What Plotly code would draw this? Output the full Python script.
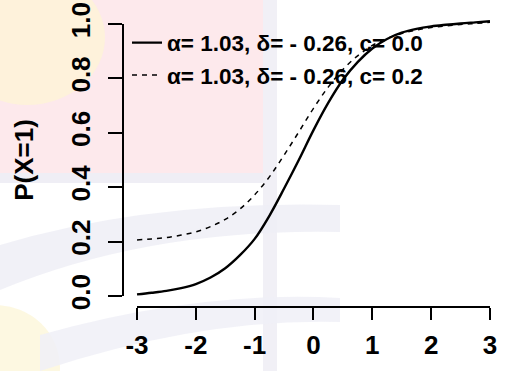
import plotly.graph_objects as go

# ---- data ----
theta = [-3.0, -2.75, -2.5, -2.25, -2.0, -1.75, -1.5, -1.25, -1.0, -0.75, -0.5, -0.25,
         0.0, 0.25, 0.5, 0.75, 1.0, 1.25, 1.5, 1.75, 2.0, 2.25, 2.5, 2.75, 3.0]
p_c00 = [0.006, 0.012, 0.019, 0.029, 0.044, 0.068, 0.102, 0.150, 0.210, 0.295, 0.395, 0.500,
         0.610, 0.710, 0.795, 0.860, 0.910, 0.945, 0.968, 0.982, 0.991, 0.997, 1.002, 1.006, 1.010]
p_c02 = [0.206, 0.210, 0.215, 0.224, 0.236, 0.255, 0.282, 0.320, 0.372, 0.438, 0.518, 0.603,
         0.690, 0.768, 0.833, 0.883, 0.921, 0.947, 0.965, 0.978, 0.987, 0.993, 0.998, 1.002, 1.006]
x_ticks = [-3, -2, -1, 0, 1, 2, 3]
x_tick_labels = ["-3", "-2", "-1", "0", "1", "2", "3"]
y_ticks = [0.0, 0.2, 0.4, 0.6, 0.8, 1.0]
y_tick_labels = ["0.0", "0.2", "0.4", "0.6", "0.8", "1.0"]
legend_labels = ["α= 1.03, δ= - 0.26, c= 0.0", "α= 1.03, δ= - 0.26, c= 0.2"]
y_title = "P(X=1)"

W, H = 506, 371
FONT = "Liberation Sans, Arial, Helvetica, sans-serif"


def px(x):
    return x / W


def py(y):
    return 1 - y / H


# data region (R style: 4% extension of the axis ranges)
xr = [-3.24, 3.24]
yr = [-0.04, 1.04]
xdom = [px(122.9), px(504.1)]
ydom = [py(306.9), py(13.1)]


def shrink(dom, lo, hi, rng):
    span = rng[1] - rng[0]
    a = dom[0] + (lo - rng[0]) / span * (dom[1] - dom[0])
    b = dom[0] + (hi - rng[0]) / span * (dom[1] - dom[0])
    return [a, b]


x2dom = shrink(xdom, min(x_ticks), max(x_ticks), xr)
y2dom = shrink(ydom, min(y_ticks), max(y_ticks), yr)

fig = go.Figure()
fig.add_trace(go.Scatter(x=theta, y=p_c00, mode="lines", name=legend_labels[0],
                         line=dict(color="black", width=2.4, shape="spline"),
                         legendgroup="a", hoverinfo="skip"))
fig.add_trace(go.Scatter(x=theta, y=p_c02, mode="lines", name=legend_labels[1],
                         line=dict(color="black", width=1.5, dash="5px,5px", shape="spline"),
                         legendgroup="b", hoverinfo="skip"))
# empty trace that carries the R-style axes
fig.add_trace(go.Scatter(x=[], y=[], xaxis="x2", yaxis="y2", showlegend=False, hoverinfo="skip"))

# faint watermark in the background
shapes = [
    dict(type="rect", xref="paper", yref="paper", x0=0, x1=px(263), y0=py(173), y1=1,
         fillcolor="#fde9ec", line=dict(width=0), layer="below"),
    dict(type="rect", xref="paper", yref="paper", x0=px(263), x1=px(277), y0=0, y1=1,
         fillcolor="#f1f0f6", line=dict(width=0), layer="below"),
    dict(type="circle", xref="paper", yref="paper", x0=px(-50), x1=px(105), y0=py(105), y1=py(-30),
         fillcolor="rgba(253,244,214,0.75)", line=dict(width=0), layer="below"),
    dict(type="circle", xref="paper", yref="paper", x0=px(-70), x1=px(60), y0=py(430), y1=py(305),
         fillcolor="rgba(253,247,222,0.9)", line=dict(width=0), layer="below"),
    dict(type="path", xref="paper", yref="paper",
         path=f"M 0 {py(245)} Q {px(150)} {py(200)} {px(340)} {py(205)} L {px(340)} {py(232)} "
              f"Q {px(150)} {py(228)} 0 {py(290)} Z",
         fillcolor="rgba(238,238,246,0.85)", line=dict(width=0), layer="below"),
    dict(type="path", xref="paper", yref="paper",
         path=f"M {px(40)} {py(335)} Q {px(200)} {py(290)} {px(340)} {py(298)} L {px(340)} {py(322)} "
              f"Q {px(200)} {py(318)} {px(40)} {py(371)} Z",
         fillcolor="rgba(240,240,247,0.85)", line=dict(width=0), layer="below"),
    dict(type="rect", xref="paper", yref="paper", x0=0, x1=px(263), y0=py(183), y1=py(173),
         fillcolor="#efeef5", line=dict(width=0), layer="below"),
]

tickfont = dict(family=FONT, size=26, color="black", weight="bold")

fig.update_layout(
    width=W, height=H,
    margin=dict(l=0, r=0, t=0, b=0, autoexpand=False),
    paper_bgcolor="white",
    plot_bgcolor="rgba(0,0,0,0)",
    shapes=shapes,
    showlegend=True,
    legend=dict(x=px(127), y=py(21.5), xanchor="left", yanchor="top",
                bgcolor="rgba(0,0,0,0)", borderwidth=0,
                font=dict(family=FONT, size=22.5, color="black", weight="bold"),
                traceorder="grouped", tracegroupgap=0, itemwidth=30),
    xaxis=dict(domain=xdom, range=xr, visible=False, fixedrange=True),
    yaxis=dict(domain=ydom, range=yr, visible=False, fixedrange=True),
    xaxis2=dict(domain=x2dom, range=[min(x_ticks), max(x_ticks)], anchor="free",
                position=ydom[0], showline=True, linecolor="black", linewidth=2,
                ticks="outside", ticklen=12, tickwidth=2, tickcolor="black",
                tickvals=x_ticks, ticktext=x_tick_labels, tickfont=tickfont,
                showgrid=False, zeroline=False, ticklabelstandoff=3, automargin=False),
    yaxis2=dict(domain=y2dom, range=[min(y_ticks), max(y_ticks)], anchor="free",
                position=xdom[0], showline=True, linecolor="black", linewidth=2,
                ticks="outside", ticklen=14, tickwidth=2, tickcolor="black",
                tickvals=y_ticks, ticktext=y_tick_labels, tickfont=tickfont,
                tickangle=-90, showgrid=False, zeroline=False, ticklabelstandoff=8,
                automargin=False,
                title=dict(text=y_title, font=dict(family=FONT, size=26, color="black",
                                                    weight="bold"), standoff=23)),
)

fig.write_html("out.html")
